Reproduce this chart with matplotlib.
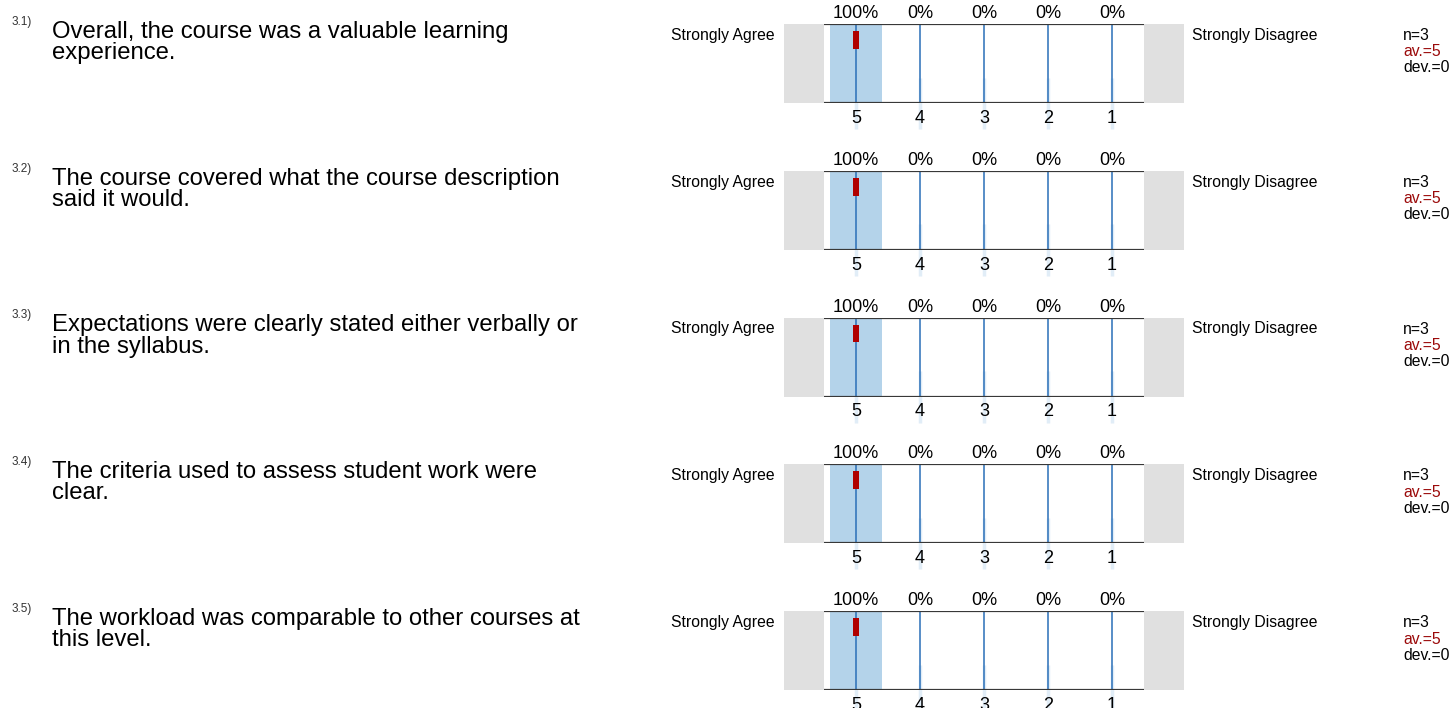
import numpy as np
import matplotlib
matplotlib.use("Agg")
import matplotlib.pyplot as plt

plt.rcParams['font.family'] = ['Liberation Sans', 'DejaVu Sans']

# data
numbers = ["3.1)", "3.2)", "3.3)", "3.4)", "3.5)"]
questions = [
    ["Overall, the course was a valuable learning", "experience."],
    ["The course covered what the course description", "said it would."],
    ["Expectations were clearly stated either verbally or", "in the syllabus."],
    ["The criteria used to assess student work were", "clear."],
    ["The workload was comparable to other courses at", "this level."],
]
scale = [5, 4, 3, 2, 1]
percents = [
    [100, 0, 0, 0, 0],
    [100, 0, 0, 0, 0],
    [100, 0, 0, 0, 0],
    [100, 0, 0, 0, 0],
    [100, 0, 0, 0, 0],
]
n_resp = [3, 3, 3, 3, 3]
means = [5, 5, 5, 5, 5]
devs = [0, 0, 0, 0, 0]
left_label = "Strongly Agree"
right_label = "Strongly Disagree"

W, H = 1454, 708
fig = plt.figure(figsize=(W / 100, H / 100), dpi=100)

def px(x, y):
    return x / W, 1 - y / H

gray = '#e0e0e0'
blue_bar = '#b4d3ea'
blue_line = '#2a6fb8'
red = '#b00000'
dark_red = '#9b0a0a'

step = 146.75
for i in range(len(questions)):
    top = 24 + i * step
    bottom = top + 79

    # question text
    fig.text(*px(12, top + 1), numbers[i], fontsize=8.5, color='#333333',
             ha='left', va='baseline')
    fig.text(*px(52, top + 14), questions[i][0], fontsize=17.2, ha='left', va='baseline')
    fig.text(*px(52, top + 35), questions[i][1], fontsize=17.2, ha='left', va='baseline')

    ax = fig.add_axes([784 / W, 1 - bottom / H, 400 / W, 79 / H])
    ax.set_xlim(6.125, -0.125)
    ax.set_ylim(0, 1)
    ax.axis('off')

    ax.axvspan(6.125, 5.5, color=gray, lw=0)
    ax.axvspan(0.5, -0.125, color=gray, lw=0)

    ax.vlines(scale, -0.33, 0.32, color='#e1edf7', lw=2.5, clip_on=False, zorder=1)
    ax.bar(scale, np.array(percents[i]) / 100, width=0.8, color=blue_bar, zorder=2)
    ax.vlines(scale, 0, 1, color=blue_line, lw=1.1, zorder=3)
    ax.hlines([0, 1], 5.5, 0.5, color='#383838', lw=1.6, zorder=4)

    wd = max(2 * devs[i], 0.094)
    ax.bar(means[i], 0.227, width=wd, bottom=0.684, color=red, zorder=5)

    for v, p in zip(scale, percents[i]):
        ax.annotate(f"{p}%", xy=(v, 1), xytext=(0, 4.3), textcoords='offset points',
                    ha='center', va='baseline', fontsize=13)
        ax.annotate(str(v), xy=(v, 0), xytext=(0, -14.4), textcoords='offset points',
                    ha='center', va='baseline', fontsize=13)

    fig.text(*px(775, top + 16), left_label, fontsize=11.3, ha='right', va='baseline')
    fig.text(*px(1192, top + 16), right_label, fontsize=11.3, ha='left', va='baseline')
    fig.text(*px(1403, top + 16), f"n={n_resp[i]}", fontsize=11.3, ha='left', va='baseline')
    fig.text(*px(1403, top + 32.5), f"av.={means[i]:g}", fontsize=11.3, color=dark_red,
             ha='left', va='baseline')
    fig.text(*px(1403, top + 48.5), f"dev.={devs[i]:g}", fontsize=11.3, ha='left', va='baseline')

fig.savefig("out.png", dpi=100)
